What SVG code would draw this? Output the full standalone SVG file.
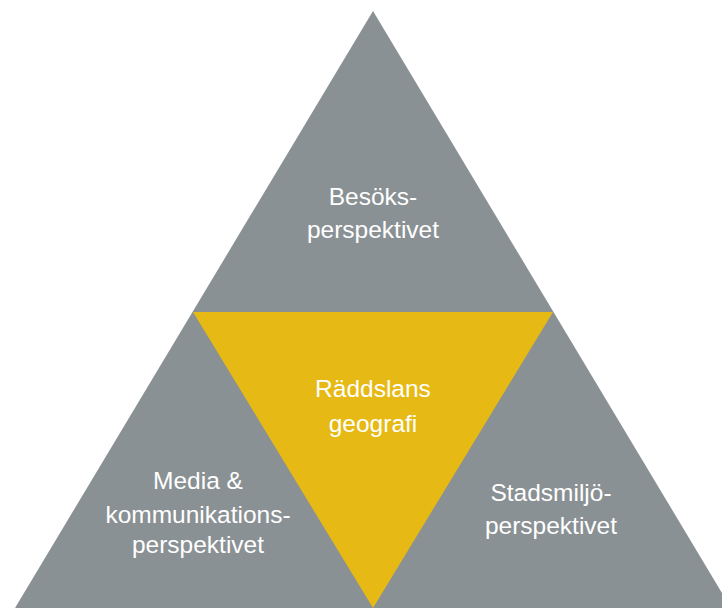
<svg xmlns="http://www.w3.org/2000/svg" width="722" height="608" viewBox="0 0 722 608">
<style>
.g{fill:#8a9194}
.y{fill:#e6b914}
text{font-family:"Liberation Sans",Arial,sans-serif;font-size:24.5px;fill:#ffffff;text-anchor:middle}
</style>
<rect width="722" height="608" fill="#ffffff"/>
<g id="outer"><polygon class="g" points="373,11 15,608 731,608"/></g>
<g id="center"><polygon class="y" points="193,312 553,312 373,608"/>
<text x="373" y="397">Räddslans</text><text x="373" y="432">geografi</text></g>
<g id="top"><text x="373" y="205">Besöks-</text><text x="373" y="238">perspektivet</text></g>
<g id="left"><text x="198" y="489">Media &amp;</text><text x="198" y="523">kommunikations-</text><text x="198" y="553">perspektivet</text></g>
<g id="right"><text x="551" y="501">Stadsmiljö-</text><text x="551" y="534">perspektivet</text></g>
<g id="connectors"></g>
</svg>
